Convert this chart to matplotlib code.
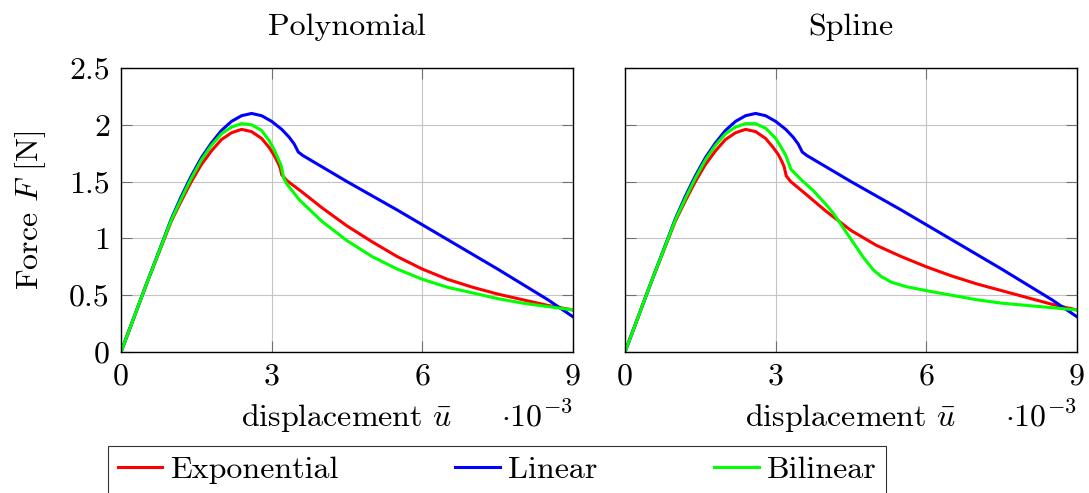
import matplotlib
matplotlib.use("Agg")
import matplotlib.pyplot as plt
from matplotlib.ticker import FuncFormatter

plt.rcParams['font.family'] = 'cmr10'
plt.rcParams['mathtext.fontset'] = 'cm'
plt.rcParams['axes.formatter.use_mathtext'] = True
plt.rcParams['font.size'] = 23

# Force-displacement curves, displacement in units of 1e-3.
# Polynomial interpolation
polyExpU = [0, 0.5, 1.0, 1.2, 1.4, 1.6, 1.8, 2.0, 2.2, 2.4, 2.6, 2.8, 2.95, 3.05, 3.12, 3.17,
            3.2, 3.3, 3.6, 4.0, 4.5, 5.0, 5.5, 6.0, 6.5, 7.0, 7.5, 8.0, 8.5, 9.0]
polyExpF = [0, 0.59, 1.15, 1.33, 1.50, 1.65, 1.77, 1.87, 1.93, 1.96, 1.94, 1.88, 1.80, 1.73, 1.67, 1.62,
            1.56, 1.51, 1.41, 1.27, 1.11, 0.97, 0.84, 0.73, 0.64, 0.57, 0.51, 0.46, 0.41, 0.37]

polyLinU = [0, 0.5, 1.0, 1.2, 1.4, 1.6, 1.8, 2.0, 2.2, 2.4, 2.6, 2.8, 3.0, 3.2, 3.35, 3.45,
            3.53, 3.62, 4.5, 5.5, 6.5, 7.5, 8.5, 9.0]
polyLinF = [0, 0.59, 1.17, 1.37, 1.55, 1.71, 1.84, 1.95, 2.03, 2.08, 2.10, 2.08, 2.03, 1.96, 1.89, 1.83,
            1.76, 1.73, 1.50, 1.25, 0.99, 0.73, 0.46, 0.31]

polyBiU = [0, 0.5, 1.0, 1.2, 1.4, 1.6, 1.8, 2.0, 2.2, 2.4, 2.6, 2.8, 2.95, 3.05, 3.12, 3.19,
           3.24, 3.3, 3.55, 4.0, 4.5, 5.0, 5.5, 6.0, 6.5, 7.0, 7.5, 8.0, 8.5, 9.0]
polyBiF = [0, 0.59, 1.16, 1.35, 1.53, 1.69, 1.82, 1.92, 1.98, 2.01, 2.00, 1.95, 1.86, 1.78, 1.71, 1.64,
           1.53, 1.48, 1.34, 1.15, 0.98, 0.84, 0.73, 0.64, 0.57, 0.52, 0.47, 0.43, 0.40, 0.37]

# Spline interpolation
splExpU = [0, 0.5, 1.0, 1.2, 1.4, 1.6, 1.8, 2.0, 2.2, 2.4, 2.6, 2.8, 2.95, 3.05, 3.12, 3.17,
           3.21, 3.3, 3.6, 4.0, 4.5, 5.0, 5.5, 6.0, 6.5, 7.0, 7.5, 8.0, 8.5, 9.0]
splExpF = [0, 0.59, 1.15, 1.33, 1.50, 1.65, 1.77, 1.87, 1.93, 1.96, 1.94, 1.88, 1.80, 1.74, 1.68, 1.63,
           1.55, 1.50, 1.39, 1.24, 1.07, 0.94, 0.84, 0.75, 0.67, 0.60, 0.54, 0.48, 0.42, 0.37]

splLinU = polyLinU
splLinF = polyLinF

splBiU = [0, 0.5, 1.0, 1.2, 1.4, 1.6, 1.8, 2.0, 2.2, 2.4, 2.6, 2.8, 3.0, 3.1, 3.2, 3.27,
          3.3, 3.5, 3.75, 4.0, 4.15, 4.35, 4.55, 4.75, 4.95, 5.1, 5.3, 5.6, 6.0, 6.5,
          7.0, 7.5, 8.0, 8.5, 9.0]
splBiF = [0, 0.59, 1.16, 1.35, 1.53, 1.69, 1.82, 1.92, 1.98, 2.01, 2.01, 1.97, 1.88, 1.81, 1.73, 1.65,
          1.61, 1.52, 1.42, 1.30, 1.22, 1.09, 0.96, 0.83, 0.72, 0.665, 0.615, 0.575, 0.54, 0.50,
          0.46, 0.43, 0.41, 0.39, 0.37]

titles = ["Polynomial", "Spline"]
labels = ["Exponential", "Linear", "Bilinear"]
colors = ["#ff0000", "#0000ff", "#00ff00"]
curves = [
    [(polyExpU, polyExpF), (polyLinU, polyLinF), (polyBiU, polyBiF)],
    [(splExpU, splExpF), (splLinU, splLinF), (splBiU, splBiF)],
]
xTicks = [0, 3, 6, 9]
yTicks = [0, 0.5, 1, 1.5, 2, 2.5]

W, H = 1089, 493
fig = plt.figure(figsize=(W / 100, H / 100), dpi=100)
axLeft = [121, 625]
axs = [fig.add_axes([l / W, 1 - 352 / H, 452 / W, 284 / H]) for l in axLeft]

fmt = FuncFormatter(lambda v, p: "%g" % v)
for k, ax in enumerate(axs):
    for (u, f), lab, c in zip(curves[k], labels, colors):
        ax.plot(u, f, color=c, lw=2.2, label=lab, solid_joinstyle='round')
    ax.set_xlim(0, 9)
    ax.set_ylim(0, 2.5)
    ax.set_xticks(xTicks)
    ax.set_yticks(yTicks)
    ax.xaxis.set_major_formatter(fmt)
    ax.yaxis.set_major_formatter(fmt)
    ax.grid(True, color='#c4c4c4', lw=0.8)
    ax.tick_params(direction='in', length=8, width=0.8, color='#707070',
                   top=True, right=True, labelsize=23)
    ax.tick_params(axis='x', pad=8)
    ax.tick_params(axis='y', pad=8)
    for s in ax.spines.values():
        s.set_linewidth(1.0)
    ax.set_title(titles[k], pad=24, fontsize=23)
    ax.set_xlabel(r'displacement $\bar{u}$')
    ax.xaxis.label.set_va('baseline')
    ax.xaxis.set_label_coords(0.5, (352 - 426) / 284)
    ax.text(1.0, (352 - 426) / 284, r'$\cdot 10^{-3}$', transform=ax.transAxes,
            ha='right', va='baseline', fontsize=23)

axs[1].tick_params(labelleft=False)
axs[0].set_ylabel(r'Force $F$ [N]')
axs[0].yaxis.label.set_rotation_mode('anchor')
axs[0].yaxis.label.set_va('baseline')
axs[0].yaxis.set_label_coords((38 - 121) / 452, 0.5)

handles, labs = axs[0].get_legend_handles_labels()
leg = fig.legend(handles, labs, loc='upper left', bbox_to_anchor=(108 / W, 1 - 446 / H),
                 ncol=3, frameon=True, fancybox=False, edgecolor='black',
                 borderaxespad=0, borderpad=0.3, handlelength=1.4, handletextpad=0.25,
                 columnspacing=3.65, fontsize=23)
leg.get_frame().set_linewidth(0.8)

fig.savefig("out.png", dpi=100)
